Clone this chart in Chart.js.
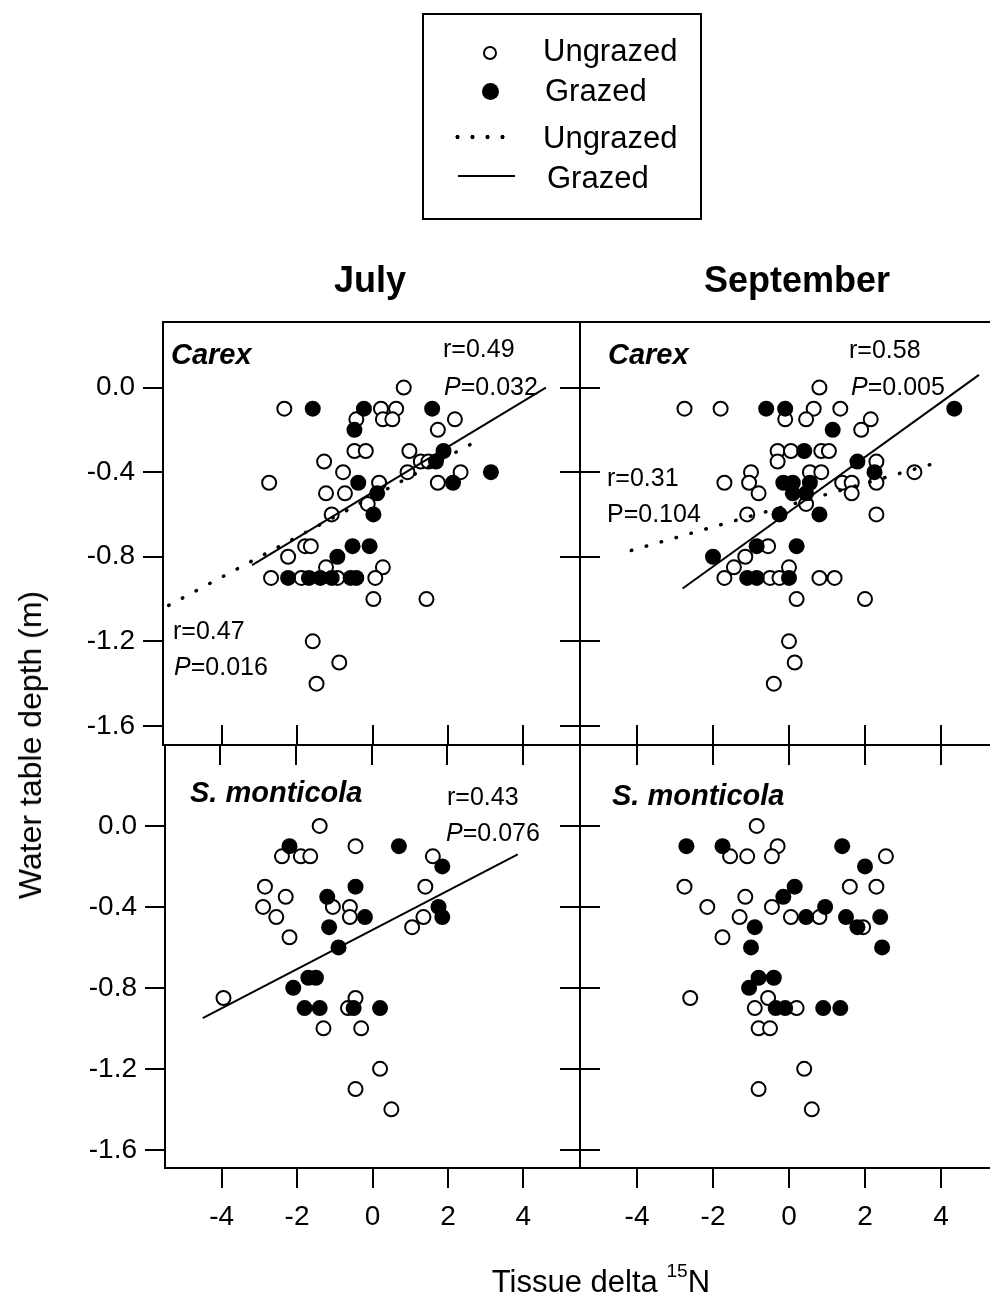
<!DOCTYPE html>
<html>
<head>
<meta charset="utf-8">
<title>Water table depth and tissue delta 15N</title>
<script src="https://cdn.jsdelivr.net/npm/chart.js@4.4.1/dist/chart.umd.min.js"></script>
<style>
  html, body { margin: 0; background: #fff; }
  body { position: relative; width: 990px; height: 1301px; overflow: hidden;
         font-family: "Liberation Sans", Arial, sans-serif; color: #000; }
  canvas { position: absolute; left: 0; top: 0; }
  .lbl { position: absolute; white-space: nowrap; line-height: 1; transform: translateY(-50%); }
  .mid { transform: translate(-50%, -50%); }
  .head { font-weight: bold; font-size: 36px; }
  .taxon { font-weight: bold; font-style: italic; font-size: 29px; }
  .stat { font-size: 25px; }
  .axt { font-size: 31px; }
  .axt sup { font-size: 0.62em; vertical-align: 0.75em; line-height: 0; }
  #ytitle { font-size: 32px; transform: translate(-50%, -50%) rotate(-90deg); }
  #key { position: absolute; left: 422px; top: 13px; width: 276px; height: 203px; border: 2px solid #000; }
  .key { font-size: 31px; }
  .sym { position: absolute; box-sizing: border-box; border-radius: 50%; }
  .sym.open { width: 14px; height: 14px; border: 2px solid #000; background: #fff; }
  .sym.fill { width: 17px; height: 17px; background: #000; }
  .dash { position: absolute; height: 4px;
          background: radial-gradient(circle, #000 1.8px, transparent 2.3px) 0 0 / 15px 4px repeat-x; }
  .solid { position: absolute; height: 2px; background: #000; }
</style>
</head>
<body>
<!-- the right-hand panels run a little past the page edge, as in the printed figure -->
<canvas id="p0" width="1000" height="1301"></canvas>
<canvas id="p1" width="1000" height="1301"></canvas>
<canvas id="p2" width="1000" height="1301"></canvas>
<canvas id="p3" width="1000" height="1301"></canvas>

<div id="key"></div>
<span class="sym open" style="left:483px;top:46px"></span>
<div class="lbl key" style="left:543px;top:50px">Ungrazed</div>
<span class="sym fill" style="left:482px;top:83px"></span>
<div class="lbl key" style="left:545px;top:90px">Grazed</div>
<div class="dash" style="left:450px;top:135px;width:60px"></div>
<div class="lbl key" style="left:543px;top:137px">Ungrazed</div>
<div class="solid" style="left:458px;top:175px;width:57px"></div>
<div class="lbl key" style="left:547px;top:177px">Grazed</div>

<div class="lbl head mid" style="left:370px;top:280px">July</div>
<div class="lbl head mid" style="left:797px;top:280px">September</div>

<div class="lbl taxon" style="left:171px;top:354px">Carex</div>
<div class="lbl stat" style="left:443px;top:348px">r=0.49</div>
<div class="lbl stat" style="left:444px;top:386px"><i>P</i>=0.032</div>
<div class="lbl stat" style="left:173px;top:630px">r=0.47</div>
<div class="lbl stat" style="left:174px;top:666px"><i>P</i>=0.016</div>

<div class="lbl taxon" style="left:608px;top:354px">Carex</div>
<div class="lbl stat" style="left:849px;top:349px">r=0.58</div>
<div class="lbl stat" style="left:851px;top:386px"><i>P</i>=0.005</div>
<div class="lbl stat" style="left:607px;top:477px">r=0.31</div>
<div class="lbl stat" style="left:607px;top:513px">P=0.104</div>

<div class="lbl taxon" style="left:190px;top:792px">S. monticola</div>
<div class="lbl stat" style="left:447px;top:796px">r=0.43</div>
<div class="lbl stat" style="left:446px;top:832px"><i>P</i>=0.076</div>

<div class="lbl taxon" style="left:612px;top:795px">S. monticola</div>

<div id="ytitle" class="lbl" style="left:30px;top:745px">Water table depth (m)</div>
<div class="lbl axt mid" style="left:601px;top:1281px">Tissue delta <sup>15</sup>N</div>

<script>
// tick values shared by all four panels
const xTicks = [-4, -2, 0, 2, 4];
const yTicks = [-1.6, -1.2, -0.8, -0.4, 0.0];

// [delta 15N, water table depth] per plant
const julCarexUngrazed = [
  [-2.3, -0.1], [0.85, 0.0], [0.25, -0.1], [0.65, -0.1], [0.3, -0.15], [0.55, -0.15], [-0.4, -0.15], [2.2, -0.15], [1.75, -0.2],
  [-0.45, -0.3], [-0.15, -0.3], [-1.25, -0.35], [1.0, -0.3], [1.3, -0.35], [1.5, -0.35], [2.35, -0.4], [1.75, -0.45], [-2.7, -0.45],
  [-0.75, -0.4], [-1.2, -0.5], [-0.7, -0.5], [0.2, -0.45], [0.95, -0.4], [-1.05, -0.6], [-0.1, -0.55],
  [-1.75, -0.75], [-1.6, -0.75], [-2.2, -0.8], [-2.65, -0.9], [-1.2, -0.85], [-0.9, -0.9], [0.3, -0.85], [0.1, -0.9],
  [0.05, -1.0], [1.45, -1.0], [-1.85, -0.9], [-1.55, -1.2], [-0.85, -1.3], [-1.45, -1.4]
];
const julCarexGrazed = [
  [-1.55, -0.1], [-0.2, -0.1], [1.6, -0.1], [-0.45, -0.2], [1.9, -0.3], [1.7, -0.35], [2.15, -0.45], [3.15, -0.4],
  [-0.35, -0.45], [0.15, -0.5], [0.05, -0.6], [-0.5, -0.75], [-0.05, -0.75], [-0.9, -0.8],
  [-2.2, -0.9], [-1.65, -0.9], [-1.35, -0.9], [-1.05, -0.9], [-0.55, -0.9], [-0.4, -0.9]
];
const sepCarexUngrazed = [
  [-2.75, -0.1], [-1.8, -0.1], [0.8, 0.0], [0.65, -0.1], [0.45, -0.15], [-0.1, -0.15], [1.35, -0.1], [2.15, -0.15], [1.9, -0.2],
  [-0.3, -0.3], [0.05, -0.3], [-0.3, -0.35], [0.85, -0.3], [1.05, -0.3], [2.3, -0.35],
  [-1.0, -0.4], [-1.7, -0.45], [-1.05, -0.45], [-0.8, -0.5], [0.55, -0.4], [0.85, -0.4], [1.4, -0.45], [1.65, -0.45],
  [1.65, -0.5], [2.3, -0.45], [3.3, -0.4], [-1.1, -0.6], [0.45, -0.55], [2.3, -0.6],
  [-0.55, -0.75], [-1.15, -0.8], [-1.45, -0.85], [-1.7, -0.9], [-0.5, -0.9], [-0.25, -0.9], [0.0, -0.85], [0.8, -0.9], [1.2, -0.9],
  [0.2, -1.0], [2.0, -1.0], [0.0, -1.2], [0.15, -1.3], [-0.4, -1.4]
];
const sepCarexGrazed = [
  [-0.6, -0.1], [-0.1, -0.1], [4.35, -0.1], [1.15, -0.2], [0.4, -0.3], [1.8, -0.35], [2.25, -0.4],
  [-0.15, -0.45], [0.1, -0.45], [0.55, -0.45], [0.45, -0.5], [0.1, -0.5], [-0.25, -0.6], [0.8, -0.6],
  [-2.0, -0.8], [-0.85, -0.75], [0.2, -0.75], [-1.1, -0.9], [-0.85, -0.9], [0.0, -0.9]
];
const julSalixUngrazed = [
  [-1.4, 0.0], [-0.45, -0.1], [-2.4, -0.15], [-1.9, -0.15], [-1.65, -0.15], [1.6, -0.15],
  [-2.85, -0.3], [-2.3, -0.35], [-2.9, -0.4], [-2.55, -0.45], [-2.2, -0.55], [-1.05, -0.4], [-0.6, -0.4], [-0.6, -0.45],
  [1.4, -0.3], [1.35, -0.45], [1.05, -0.5],
  [-3.95, -0.85], [-0.45, -0.85], [-0.65, -0.9], [-1.3, -1.0], [-0.3, -1.0], [0.2, -1.2], [-0.45, -1.3], [0.5, -1.4]
];
const julSalixGrazed = [
  [-2.2, -0.1], [0.7, -0.1], [1.85, -0.2], [-0.45, -0.3], [-1.2, -0.35], [-0.2, -0.45], [-1.15, -0.5], [1.75, -0.4],
  [1.85, -0.45], [-0.9, -0.6], [-2.1, -0.8], [-1.7, -0.75], [-1.5, -0.75], [-1.8, -0.9], [-1.4, -0.9], [-0.5, -0.9], [0.2, -0.9]
];
const sepSalixUngrazed = [
  [-0.85, 0.0], [-0.3, -0.1], [-0.45, -0.15], [-1.55, -0.15], [-1.1, -0.15], [2.55, -0.15],
  [-2.75, -0.3], [1.6, -0.3], [2.3, -0.3], [-2.15, -0.4], [-1.15, -0.35], [-0.45, -0.4], [-1.3, -0.45], [0.05, -0.45],
  [0.8, -0.45], [1.95, -0.5], [-1.75, -0.55],
  [-2.6, -0.85], [-0.55, -0.85], [-0.9, -0.9], [0.2, -0.9], [-0.8, -1.0], [-0.5, -1.0], [0.4, -1.2], [-0.8, -1.3], [0.6, -1.4]
];
const sepSalixGrazed = [
  [-2.7, -0.1], [-1.75, -0.1], [1.4, -0.1], [2.0, -0.2], [0.15, -0.3], [-0.15, -0.35], [0.95, -0.4], [0.45, -0.45],
  [1.5, -0.45], [1.8, -0.5], [2.4, -0.45], [-0.9, -0.5], [-1.0, -0.6], [2.45, -0.6],
  [-0.8, -0.75], [-0.4, -0.75], [-1.05, -0.8], [-0.35, -0.9], [-0.1, -0.9], [0.9, -0.9], [1.35, -0.9]
];

// regression lines, start and end point
const julCarexFitUngrazed = [[-5.35, -1.03], [2.6, -0.27]];
const julCarexFitGrazed = [[-3.15, -0.84], [4.6, 0.0]];
const sepCarexFitUngrazed = [[-4.15, -0.77], [3.8, -0.36]];
const sepCarexFitGrazed = [[-2.8, -0.95], [5.0, 0.06]];
const julSalixFitGrazed = [[-4.5, -0.95], [3.85, -0.14]];

const W = 1000, H = 1301;

// chart area of each panel in canvas pixels: [left, top, right, bottom]
const panels = [
  { box: [163, 322, 580, 745], x: [-5.5, 5.5], y: [-1.69, 0.31], col: 0, row: 0,
    open: julCarexUngrazed, filled: julCarexGrazed, dotted: julCarexFitUngrazed, solid: julCarexFitGrazed },
  { box: [580, 322, 998, 745], x: [-5.5, 5.5], y: [-1.69, 0.31], col: 1, row: 0,
    open: sepCarexUngrazed, filled: sepCarexGrazed, dotted: sepCarexFitUngrazed, solid: sepCarexFitGrazed },
  { box: [165, 745, 580, 1168], x: [-5.5, 5.5], y: [-1.69, 0.4], col: 0, row: 1,
    open: julSalixUngrazed, filled: julSalixGrazed, dotted: null, solid: julSalixFitGrazed },
  { box: [580, 745, 998, 1168], x: [-5.5, 5.5], y: [-1.69, 0.4], col: 1, row: 1,
    open: sepSalixUngrazed, filled: sepSalixGrazed, dotted: null, solid: null }
];

function pts(list) {
  return list.map(p => ({ x: p[0], y: p[1] }));
}

// axis with fixed size so the chart area lands on the panel box
function axis(pos, range, values, labels, size, fmt) {
  return {
    type: 'linear',
    position: pos,
    min: range[0],
    max: range[1],
    afterBuildTicks: s => { s.ticks = values.map(v => ({ value: v })); },
    afterFit: s => { if (s.isHorizontal()) s.height = size; else s.width = size; },
    ticks: {
      display: labels,
      color: '#000',
      font: { family: 'Liberation Sans', size: 28 },
      padding: pos === 'left' ? 8 : 12,
      maxRotation: 0,
      autoSkip: false,
      callback: fmt
    },
    grid: { drawOnChartArea: false, drawTicks: true, tickLength: 20, lineWidth: 2, color: '#000' },
    border: { display: false }
  };
}

// box round the plotting area
const frame = {
  id: 'frame',
  beforeDatasetsDraw(chart) {
    const a = chart.chartArea, ctx = chart.ctx;
    ctx.save();
    ctx.lineWidth = 2;
    ctx.strokeStyle = '#000';
    ctx.strokeRect(a.left, a.top, a.right - a.left, a.bottom - a.top);
    ctx.restore();
  }
};

panels.forEach((p, i) => {
  const [l, t, r, b] = p.box;
  const fx = v => String(v);
  const fy = v => v.toFixed(1);

  const scales = {
    x: axis('bottom', p.x, xTicks, p.row === 1, H - b, fx),
    y: axis('left', p.y, yTicks, p.col === 0, l, fy)
  };
  if (p.row === 1) scales.xTop = axis('top', p.x, xTicks, false, t, fx);
  if (p.col === 0) scales.yRight = axis('right', p.y, yTicks, false, W - r, fy);

  const datasets = [];
  if (p.solid) {
    datasets.push({ type: 'line', data: pts(p.solid), showLine: true, borderColor: '#000', borderWidth: 2,
      pointRadius: 0, order: 0 });
  }
  if (p.dotted) {
    datasets.push({ type: 'line', data: pts(p.dotted), showLine: true, borderColor: '#000', borderWidth: 3.5,
      borderDash: [0.5, 15], borderCapStyle: 'round', pointRadius: 0, order: 0 });
  }
  datasets.push({ data: pts(p.filled), pointRadius: 8, backgroundColor: '#000', borderColor: '#000',
    borderWidth: 0, order: 1 });
  datasets.push({ data: pts(p.open), pointRadius: 7, backgroundColor: '#fff', borderColor: '#000',
    borderWidth: 2, order: 2 });

  new Chart(document.getElementById('p' + i), {
    type: 'scatter',
    data: { datasets: datasets },
    options: {
      responsive: false,
      animation: false,
      events: [],
      layout: {
        autoPadding: false,
        padding: { top: p.row === 1 ? 0 : t, right: p.col === 0 ? 0 : W - r, left: 0, bottom: 0 }
      },
      plugins: { legend: { display: false }, tooltip: { enabled: false } },
      scales: scales
    },
    plugins: [frame]
  });
});
</script>
</body>
</html>
